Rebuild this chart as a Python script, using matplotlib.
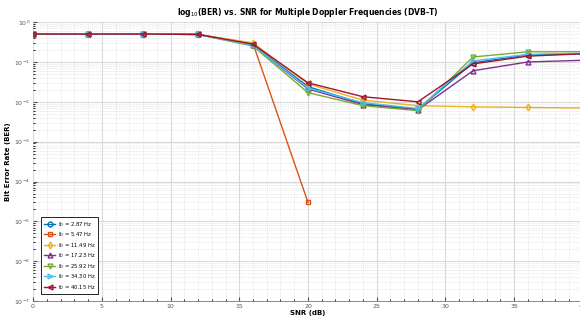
import numpy as np
import matplotlib.pyplot as plt
from matplotlib.ticker import MultipleLocator

# SNR points (dB)
snr = [0, 4, 8, 12, 16, 20, 24, 28, 32, 36, 40]

doppler = ['2.87', '5.47', '11.49', '17.23', '25.92', '34.30', '40.15']

ber_287 = [0.5, 0.5, 0.5, 0.49, 0.27, 0.024, 0.009, 0.0065, 0.095, 0.15, 0.16]
ber_547 = [0.5, 0.5, 0.5, 0.49, 0.29, 3e-5]
ber_1149 = [0.5, 0.5, 0.5, 0.49, 0.30, 0.028, 0.011, 0.008, 0.0075, 0.0072, 0.007]
ber_1723 = [0.5, 0.5, 0.5, 0.49, 0.26, 0.021, 0.0085, 0.0063, 0.06, 0.10, 0.11]
ber_2592 = [0.5, 0.5, 0.5, 0.49, 0.25, 0.017, 0.008, 0.006, 0.133, 0.18, 0.18]
ber_3430 = [0.5, 0.5, 0.5, 0.49, 0.26, 0.022, 0.0095, 0.0068, 0.106, 0.155, 0.165]
ber_4015 = [0.5, 0.5, 0.5, 0.49, 0.28, 0.03, 0.0134, 0.01, 0.089, 0.14, 0.16]

series = [ber_287, ber_547, ber_1149, ber_1723, ber_2592, ber_3430, ber_4015]
colors = ['#0072BD', '#D95319', '#EDB120', '#7E2F8E', '#77AC30', '#4DBEEE', '#A2142F']
markers = ['o', 's', 'd', '^', 'v', '>', '<']

fig = plt.figure(figsize=(5.8, 3.2), dpi=100)
ax = fig.add_axes([0.057, 0.059, 0.948, 0.872])

for vals, fd, c, m in zip(series, doppler, colors, markers):
    ax.semilogy(snr[:len(vals)], vals, color=c, marker=m, markersize=3.5,
                markerfacecolor='none', markeredgewidth=1.0, linewidth=1.0,
                label='f$_D$ = ' + fd + ' Hz')

ax.set_xlim(0, 40)
ax.set_ylim(1e-7, 1)
ax.set_xticks(range(0, 41, 5))
ax.xaxis.set_minor_locator(MultipleLocator(1))
ax.grid(True, which='major', color='#d9d9d9', linewidth=0.8)
ax.grid(True, which='minor', color='#e6e6e6', linewidth=0.5, linestyle=(0, (2, 1)))
ax.tick_params(labelsize=4.5, colors='#555555', direction='in', length=3, pad=2)
ax.tick_params(which='minor', direction='in', length=1.5)
for s in ax.spines.values():
    s.set_visible(False)
ax.spines['bottom'].set_visible(True)
ax.spines['bottom'].set_color('#777777')
ax.spines['bottom'].set_linewidth(0.6)

ax.set_title('log$_{10}$(BER) vs. SNR for Multiple Doppler Frequencies (DVB-T)',
             fontsize=5.5, fontweight='bold', pad=5)
ax.set_xlabel('SNR (dB)', fontsize=5, fontweight='bold', labelpad=1)
ax.set_ylabel('Bit Error Rate (BER)', fontsize=5, fontweight='bold', labelpad=2)

leg = ax.legend(loc='lower left', fontsize=3.8, fancybox=False, edgecolor='black',
                framealpha=1, handlelength=2.2, handletextpad=0.4, borderpad=0.5,
                labelspacing=0.3, bbox_to_anchor=(0.01, 0.015))
leg.get_frame().set_linewidth(0.6)

fig.savefig('out.png', dpi=100)
